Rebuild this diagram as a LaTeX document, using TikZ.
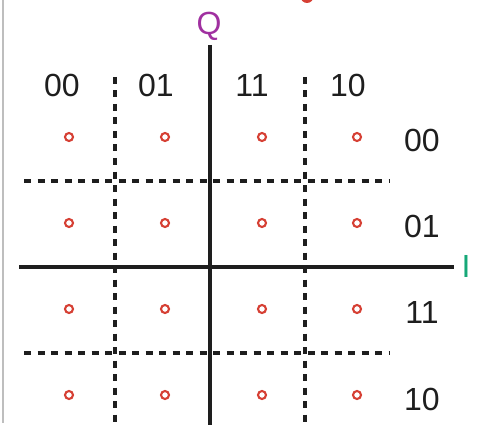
\documentclass[tikz,border=0pt]{standalone}
\usepackage{fontspec}
\setmainfont{Liberation Sans}
\usetikzlibrary{calc,positioning}
\definecolor{AxisBlack}{RGB}{30,30,30}
\definecolor{PointRed}{RGB}{214,64,52}
\definecolor{QPurple}{RGB}{160,48,160}
\definecolor{IGreen}{RGB}{22,168,120}
\definecolor{FrameGray}{RGB}{190,190,190}

\begin{document}
\begin{tikzpicture}[x=1pt,y=-1pt,
    lbl/.style={font=\fontsize{32}{38}\selectfont,inner sep=0pt,text=AxisBlack},
    sym/.style={circle,draw=PointRed,line width=2.1pt,fill=white,minimum size=8pt,inner sep=0pt},
    divline/.style={AxisBlack,line width=3.2pt,dash pattern=on 7pt off 6.5pt},
    axisline/.style={AxisBlack,line width=3.4pt}]
    \useasboundingbox (0,0) rectangle (490,425);
    % frame edge and the cut-off dot
    \draw[FrameGray,line width=1.2pt] (3,0)--(3,423);
    \fill[PointRed] (307,-3.5) circle (6.5);
    % decision boundaries
    \draw[divline] (115,77)--(115,425);
    \draw[divline] (305,77)--(305,425);
    \draw[divline] (24,181)--(389,181);
    \draw[divline] (24,353)--(389,353);
    % axes
    \coordinate (Ileft) at (19,267);
    \coordinate (Iright) at (454,267);
    \coordinate (Qtop) at (210,45);
    \coordinate (Qbot) at (210,425);
    \draw[axisline] (Ileft)--(Iright);
    \draw[axisline] (Qtop)--(Qbot);
    \node[lbl,text=QPurple,anchor=base] (Qlbl) at (209,35) {Q};
    \node[lbl,text=IGreen] (Ilbl) at (466,266) {I};
    % gray-code labels
    \foreach \x/\g in {62/00,156/01,252/11,348/10}
      \node[lbl] (c\g) at (\x,85) {\g};
    \foreach \y/\g in {140/00,226/01,312/11,399/10}
      \node[lbl] (r\g) at (422,\y) {\g};
    % constellation points
    \foreach \x [count=\i] in {69,165,262,357}
      \foreach \y [count=\j] in {137,223,309,395}
        \node[sym] (s\i\j) at (\x,\y) {};
  \end{tikzpicture}
\end{document}
